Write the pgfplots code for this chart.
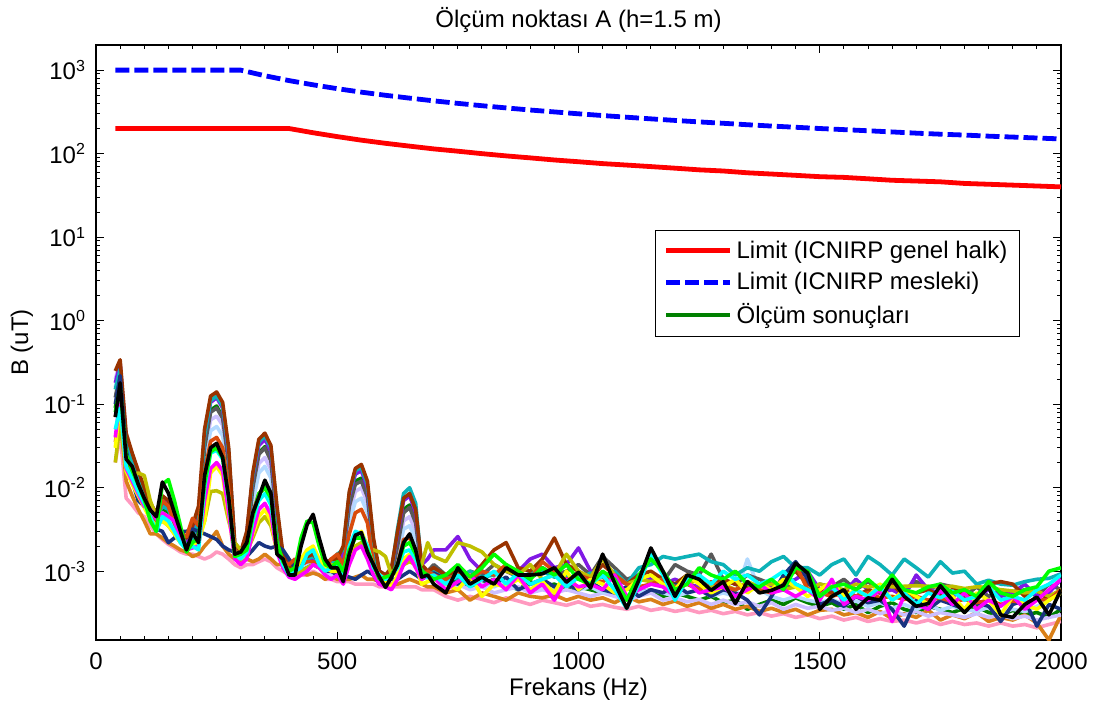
\documentclass[border=0pt]{standalone}
\usepackage{fontspec}
\setmainfont{Liberation Sans}
\usepackage{pgfplots}
\usepackage{pgfplotstable}
\pgfplotsset{compat=1.18}
\definecolor{cBR}{rgb}{0.6,0.2,0}
\definecolor{cTE}{rgb}{0.05,0.7,0.72}
\definecolor{cPU}{rgb}{0.5,0.1,0.9}
\definecolor{cDG}{rgb}{0,0.5,0}
\definecolor{cGY}{rgb}{0.35,0.35,0.35}
\definecolor{cLV}{rgb}{0.8,0.75,1}
\definecolor{cLB}{rgb}{0.7,0.85,1}
\definecolor{cRO}{rgb}{0.85,0.3,0.05}
\definecolor{cCY}{rgb}{0,1,1}
\definecolor{cLI}{rgb}{0,1,0}
\definecolor{cMG}{rgb}{1,0,1}
\definecolor{cYE}{rgb}{1,1,0}
\definecolor{cOL}{rgb}{0.75,0.75,0}
\definecolor{cNV}{rgb}{0.1,0.2,0.5}
\definecolor{cOR}{rgb}{0.85,0.5,0.1}
\definecolor{cPK}{rgb}{1,0.6,0.75}
\newcommand{\fz}{\fontsize{12}{14}\selectfont}

\pgfplotstableread{
f b
40 200
400 200
450 178
500 160
550 145
600 133
650 123
700 114
750 107
800 100
850 94
900 89
950 84
1000 80
1050 76
1100 73
1150 70
1200 67
1250 64
1300 62
1350 59
1400 57
1450 55
1500 53
1550 52
1600 50
1650 48
1700 47
1750 46
1800 44
1850 43
1900 42
1950 41
2000 40
}\redlim

\pgfplotstableread{
f b
40 1000
300 1000
350 857
400 750
450 667
500 600
550 545
600 500
650 462
700 429
750 400
800 375
850 353
900 333
950 316
1000 300
1050 286
1100 273
1150 261
1200 250
1250 240
1300 231
1350 222
1400 214
1450 207
1500 200
1550 194
1600 188
1650 182
1700 176
1750 171
1800 167
1850 162
1900 158
1950 154
2000 150
}\bluelim

\pgfplotstableread{
f br te pu dg gy lv lb ro cy li mg ye ol nv or pk bk
40 2500e-4 1500e-4 1800e-4 900e-4 1200e-4 2000e-4 1600e-4 700e-4 500e-4 800e-4 400e-4 300e-4 200e-4 1000e-4 350e-4 200e-4 700e-4
50 3400e-4 2600e-4 3000e-4 2000e-4 2400e-4 3200e-4 2800e-4 1500e-4 900e-4 1600e-4 1200e-4 1000e-4 600e-4 2200e-4 800e-4 450e-4 1800e-4
62.5 450e-4 330e-4 350e-4 260e-4 300e-4 400e-4 380e-4 240e-4 180e-4 250e-4 170e-4 160e-4 150e-4 280e-4 120e-4 75e-4 220e-4
75 260e-4 200e-4 220e-4 170e-4 190e-4 230e-4 210e-4 150e-4 130e-4 160e-4 120e-4 110e-4 140e-4 120e-4 80e-4 62e-4 180e-4
87.5 160e-4 130e-4 140e-4 110e-4 120e-4 150e-4 140e-4 100e-4 90e-4 110e-4 85e-4 80e-4 150e-4 70e-4 55e-4 50e-4 110e-4
100 100e-4 85e-4 90e-4 75e-4 80e-4 95e-4 88e-4 70e-4 65e-4 72e-4 60e-4 58e-4 140e-4 60e-4 40e-4 45e-4 75e-4
112.5 65e-4 55e-4 58e-4 50e-4 55e-4 60e-4 56e-4 48e-4 45e-4 40e-4 55e-4 42e-4 70e-4 45e-4 28e-4 35e-4 54e-4
125 50e-4 42e-4 45e-4 38e-4 42e-4 46e-4 43e-4 40e-4 30e-4 30e-4 42e-4 35e-4 45e-4 32e-4 28e-4 28e-4 45e-4
137.5 80e-4 60e-4 70e-4 55e-4 65e-4 50e-4 45e-4 70e-4 45e-4 110e-4 50e-4 40e-4 40e-4 30e-4 25e-4 24e-4 117e-4
150 70e-4 55e-4 65e-4 50e-4 60e-4 45e-4 42e-4 60e-4 40e-4 125e-4 45e-4 35e-4 35e-4 22e-4 22e-4 21e-4 86e-4
162.5 45e-4 38e-4 42e-4 35e-4 38e-4 35e-4 32e-4 38e-4 30e-4 70e-4 40e-4 28e-4 28e-4 25e-4 20e-4 19e-4 50e-4
175 30e-4 26e-4 28e-4 24e-4 26e-4 25e-4 24e-4 28e-4 22e-4 35e-4 25e-4 22e-4 22e-4 30e-4 18e-4 17e-4 30e-4
187.5 25e-4 20e-4 22e-4 18e-4 20e-4 20e-4 19e-4 26e-4 18e-4 17e-4 18e-4 19e-4 19e-4 30e-4 17e-4 16e-4 18e-4
200 35e-4 25e-4 28e-4 22e-4 24e-4 22e-4 21e-4 43e-4 20e-4 22e-4 19e-4 20e-4 22e-4 32e-4 15e-4 16e-4 29e-4
212.5 60e-4 40e-4 50e-4 30e-4 35e-4 30e-4 28e-4 35e-4 18e-4 25e-4 20e-4 22e-4 24e-4 30e-4 16e-4 15e-4 22e-4
225 500e-4 420e-4 430e-4 330e-4 300e-4 250e-4 200e-4 150e-4 100e-4 110e-4 70e-4 40e-4 40e-4 28e-4 20e-4 14e-4 140e-4
237.5 1250e-4 1100e-4 1050e-4 850e-4 800e-4 650e-4 480e-4 360e-4 260e-4 270e-4 170e-4 150e-4 90e-4 26e-4 24e-4 15e-4 300e-4
250 1400e-4 1250e-4 1200e-4 950e-4 900e-4 720e-4 540e-4 400e-4 280e-4 300e-4 200e-4 180e-4 92e-4 24e-4 30e-4 17e-4 340e-4
262.5 1050e-4 950e-4 900e-4 700e-4 680e-4 560e-4 420e-4 300e-4 220e-4 230e-4 160e-4 140e-4 85e-4 20e-4 20e-4 16e-4 230e-4
275 300e-4 270e-4 250e-4 200e-4 190e-4 160e-4 130e-4 95e-4 70e-4 75e-4 50e-4 45e-4 40e-4 18e-4 16e-4 14e-4 77e-4
287.5 22e-4 20e-4 20e-4 18e-4 18e-4 17e-4 17e-4 18e-4 16e-4 15e-4 14e-4 16e-4 22e-4 17e-4 14e-4 12e-4 16e-4
300 17e-4 16e-4 17e-4 15e-4 14e-4 14e-4 15e-4 15e-4 14e-4 16e-4 12e-4 14e-4 18e-4 16e-4 13e-4 11e-4 17e-4
312.5 30e-4 25e-4 28e-4 22e-4 20e-4 20e-4 19e-4 20e-4 17e-4 18e-4 14e-4 16e-4 17e-4 15e-4 14e-4 12e-4 22e-4
325 150e-4 140e-4 135e-4 110e-4 100e-4 80e-4 65e-4 50e-4 40e-4 45e-4 30e-4 28e-4 25e-4 18e-4 13e-4 12e-4 50e-4
337.5 380e-4 350e-4 320e-4 260e-4 250e-4 195e-4 150e-4 85e-4 70e-4 85e-4 55e-4 45e-4 38e-4 22e-4 14e-4 13e-4 77e-4
350 450e-4 420e-4 380e-4 310e-4 300e-4 230e-4 180e-4 100e-4 85e-4 100e-4 65e-4 55e-4 45e-4 20e-4 16e-4 14e-4 123e-4
362.5 320e-4 300e-4 270e-4 220e-4 210e-4 165e-4 130e-4 75e-4 62e-4 75e-4 48e-4 40e-4 35e-4 19e-4 14e-4 13e-4 86e-4
375 60e-4 55e-4 50e-4 40e-4 38e-4 32e-4 28e-4 22e-4 20e-4 22e-4 17e-4 17e-4 18e-4 20e-4 12e-4 11e-4 16e-4
387.5 16e-4 14e-4 15e-4 13e-4 12e-4 12e-4 12e-4 13e-4 12e-4 13e-4 11e-4 12e-4 13e-4 18e-4 12e-4 10e-4 14e-4
400 11e-4 12e-4 12e-4 10e-4 10e-4 10e-4 11e-4 12e-4 9e-4 10e-4 8.5e-4 9e-4 10e-4 14e-4 10e-4 9e-4 9e-4
412.5 13e-4 12e-4 11e-4 9e-4 9.5e-4 9e-4 10e-4 14e-4 10e-4 11e-4 8e-4 10e-4 9e-4 11e-4 10e-4 8.5e-4 9e-4
425 14e-4 13e-4 12e-4 11e-4 12e-4 10e-4 10e-4 12e-4 11e-4 25e-4 9e-4 14e-4 10e-4 10e-4 10e-4 9e-4 20e-4
437.5 15e-4 14e-4 13e-4 14e-4 16e-4 12e-4 12e-4 13e-4 16e-4 40e-4 10e-4 18e-4 11e-4 11e-4 9e-4 9e-4 36e-4
450 16e-4 15e-4 14e-4 15e-4 17e-4 13e-4 13e-4 13e-4 18e-4 38e-4 12e-4 20e-4 12e-4 12e-4 9.5e-4 10e-4 48e-4
462.5 13e-4 13e-4 12e-4 13e-4 14e-4 12e-4 12e-4 12e-4 12e-4 20e-4 11e-4 14e-4 11e-4 11e-4 9e-4 9e-4 25e-4
475 12e-4 11e-4 12e-4 10e-4 11e-4 10e-4 10e-4 11e-4 10e-4 12e-4 9e-4 11e-4 10e-4 10e-4 8e-4 8e-4 14e-4
487.5 14e-4 12e-4 11e-4 10e-4 12e-4 9e-4 9.5e-4 14e-4 11e-4 11e-4 8e-4 10e-4 12e-4 10e-4 9e-4 8e-4 11e-4
500 14e-4 16e-4 12e-4 11e-4 13e-4 10e-4 10e-4 16e-4 12e-4 13e-4 9e-4 10e-4 11e-4 9e-4 8e-4 7.5e-4 11e-4
512.5 20e-4 18e-4 17e-4 14e-4 15e-4 12e-4 11e-4 12e-4 9e-4 10e-4 7e-4 9e-4 10e-4 9e-4 8e-4 7.5e-4 7.5e-4
525 90e-4 85e-4 80e-4 65e-4 60e-4 48e-4 38e-4 28e-4 20e-4 18e-4 12e-4 15e-4 14e-4 8.5e-4 8e-4 7.5e-4 16e-4
537.5 170e-4 160e-4 145e-4 120e-4 110e-4 90e-4 68e-4 50e-4 30e-4 25e-4 18e-4 27e-4 20e-4 8e-4 8.5e-4 7e-4 27e-4
550 190e-4 175e-4 160e-4 130e-4 120e-4 100e-4 75e-4 55e-4 28e-4 25e-4 20e-4 30e-4 22e-4 9e-4 9e-4 7e-4 29e-4
562.5 120e-4 110e-4 100e-4 85e-4 78e-4 65e-4 50e-4 38e-4 20e-4 18e-4 14e-4 20e-4 18e-4 10e-4 8e-4 7e-4 17e-4
575 25e-4 22e-4 20e-4 18e-4 17e-4 15e-4 13e-4 12e-4 11e-4 12e-4 9e-4 11e-4 18e-4 9e-4 8e-4 7e-4 12e-4
587.5 10e-4 9e-4 10e-4 9e-4 9e-4 8.5e-4 8.5e-4 9e-4 9e-4 8e-4 7e-4 9e-4 17e-4 7e-4 7.5e-4 6.5e-4 8.5e-4
600 9e-4 8.5e-4 9e-4 8e-4 8.5e-4 8e-4 8e-4 8.5e-4 8e-4 8.5e-4 6.5e-4 7.5e-4 15e-4 7.5e-4 7e-4 6.5e-4 6.4e-4
612.5 11e-4 10e-4 10e-4 9e-4 9e-4 8.5e-4 8.5e-4 9e-4 9e-4 9e-4 6e-4 6.5e-4 9e-4 8e-4 7e-4 6.5e-4 8.5e-4
625 30e-4 32e-4 28e-4 22e-4 20e-4 17e-4 14e-4 12e-4 11e-4 12e-4 8e-4 9e-4 10e-4 8e-4 7e-4 6.5e-4 12e-4
637.5 75e-4 85e-4 70e-4 55e-4 50e-4 40e-4 32e-4 24e-4 17e-4 20e-4 12e-4 14e-4 12e-4 9e-4 7.5e-4 6.5e-4 22e-4
650 85e-4 100e-4 80e-4 62e-4 58e-4 45e-4 35e-4 25e-4 18e-4 22e-4 15e-4 16e-4 13e-4 10e-4 8e-4 6.5e-4 28e-4
662.5 55e-4 65e-4 50e-4 40e-4 38e-4 30e-4 24e-4 18e-4 14e-4 16e-4 11e-4 12e-4 12e-4 9e-4 7.5e-4 6.5e-4 18e-4
675 12e-4 11e-4 12e-4 10e-4 10e-4 9e-4 9e-4 9e-4 9e-4 10e-4 8e-4 7e-4 12e-4 8e-4 7e-4 6e-4 8.5e-4
687.5 10e-4 9e-4 14e-4 9e-4 10e-4 8.5e-4 8e-4 10e-4 8.5e-4 9e-4 9e-4 7.5e-4 22e-4 9e-4 6.5e-4 6e-4 9e-4
700 11e-4 10e-4 18e-4 9e-4 12e-4 8e-4 8.5e-4 9e-4 9e-4 8e-4 8.5e-4 8e-4 15e-4 9.5e-4 6.5e-4 6e-4 7e-4
725 9e-4 9e-4 18e-4 7e-4 9e-4 6.5e-4 7e-4 8e-4 7e-4 9e-4 6e-4 7e-4 13e-4 8e-4 5.5e-4 5e-4 5.5e-4
750 10e-4 8e-4 26e-4 8e-4 8e-4 7e-4 6.5e-4 9e-4 9e-4 12e-4 7.5e-4 6e-4 22e-4 7e-4 6e-4 4.5e-4 11e-4
775 8e-4 10e-4 14e-4 6.5e-4 10e-4 6e-4 8e-4 8e-4 6.5e-4 8.5e-4 9e-4 9e-4 20e-4 9e-4 4.5e-4 5e-4 7e-4
800 12e-4 8.5e-4 10e-4 7e-4 9e-4 6.5e-4 7e-4 10e-4 8e-4 11e-4 6.5e-4 5e-4 17e-4 8e-4 5.5e-4 4.6e-4 8.5e-4
825 18e-4 9e-4 9e-4 8e-4 12e-4 5.5e-4 6.5e-4 9e-4 10e-4 16e-4 8e-4 7e-4 12e-4 7e-4 5e-4 4.2e-4 7e-4
850 22e-4 11e-4 11e-4 7e-4 10e-4 6e-4 7.5e-4 12e-4 7e-4 12e-4 6e-4 6.5e-4 10e-4 8.5e-4 4.5e-4 4.8e-4 11e-4
875 11e-4 8e-4 10e-4 6e-4 8.5e-4 6.5e-4 6e-4 9e-4 9.5e-4 10e-4 9e-4 8e-4 9e-4 6e-4 5.5e-4 4.4e-4 9e-4
900 10e-4 9.5e-4 14e-4 7.5e-4 9e-4 5.5e-4 7e-4 8e-4 7e-4 8e-4 5.5e-4 6e-4 12e-4 7e-4 5e-4 4e-4 9e-4
925 14e-4 10e-4 16e-4 6.5e-4 11e-4 6e-4 6.5e-4 13e-4 8e-4 11e-4 7e-4 7.5e-4 8e-4 8e-4 4.8e-4 4.5e-4 9.3e-4
950 25e-4 8.5e-4 11e-4 7e-4 9e-4 5.5e-4 6e-4 10e-4 9e-4 9e-4 4.5e-4 5.5e-4 9e-4 6.5e-4 5.2e-4 4.2e-4 11e-4
975 12e-4 9e-4 12e-4 6e-4 10e-4 6e-4 7e-4 8e-4 6.5e-4 12e-4 8e-4 10e-4 16e-4 7e-4 4.5e-4 3.9e-4 7.4e-4
1000 10e-4 8e-4 19e-4 6.5e-4 12e-4 5.5e-4 6e-4 9e-4 8.5e-4 8e-4 6.5e-4 6e-4 10e-4 6e-4 5e-4 4.3e-4 9.7e-4
1025 8e-4 9.5e-4 10e-4 6e-4 9e-4 5e-4 6.5e-4 8e-4 7e-4 7e-4 7e-4 8e-4 8.5e-4 7.5e-4 4.5e-4 3.8e-4 6.3e-4
1050 12e-4 8.5e-4 9e-4 5.5e-4 15e-4 5.5e-4 5.5e-4 7.5e-4 9e-4 10e-4 6e-4 7e-4 14e-4 6e-4 4.8e-4 4e-4 16e-4
1075 9e-4 10e-4 8e-4 6e-4 11e-4 5e-4 6e-4 9e-4 6e-4 8e-4 9e-4 5.5e-4 9e-4 5.5e-4 4.2e-4 3.7e-4 7.2e-4
1100 7e-4 7e-4 7e-4 5e-4 8e-4 4.5e-4 5e-4 7e-4 3.6e-4 4.5e-4 5e-4 6e-4 7e-4 6.5e-4 5e-4 3.5e-4 3.6e-4
1125 9e-4 11e-4 9e-4 5.5e-4 9e-4 5e-4 5.5e-4 6.5e-4 7e-4 9e-4 6e-4 8e-4 8e-4 5e-4 4.3e-4 3.8e-4 7.8e-4
1150 10e-4 12e-4 8e-4 6e-4 8e-4 5.5e-4 6e-4 7e-4 16e-4 14e-4 7e-4 9e-4 7.5e-4 6e-4 4.6e-4 3.4e-4 19e-4
1175 8e-4 15e-4 7e-4 5e-4 7.5e-4 4.5e-4 5.5e-4 8e-4 9e-4 10e-4 6.5e-4 7e-4 8e-4 5.5e-4 4e-4 3.6e-4 10e-4
1200 7e-4 14e-4 8e-4 5.5e-4 12e-4 4.8e-4 5e-4 6.5e-4 4.5e-4 6e-4 5e-4 6e-4 6.5e-4 7e-4 4.4e-4 3.3e-4 5e-4
1225 9e-4 15e-4 7e-4 5e-4 10e-4 4.3e-4 5.5e-4 7e-4 8e-4 7e-4 7.5e-4 9e-4 7e-4 5.5e-4 3.8e-4 3.5e-4 9e-4
1250 8e-4 16e-4 6.5e-4 4.5e-4 9e-4 4.6e-4 6e-4 6e-4 9e-4 11e-4 5.5e-4 7e-4 8e-4 6e-4 4.2e-4 3.2e-4 8e-4
1275 7e-4 13e-4 7e-4 5e-4 16e-4 4e-4 5e-4 7.5e-4 7e-4 9e-4 6e-4 5.5e-4 6.5e-4 5e-4 3.6e-4 3.4e-4 5.9e-4
1300 8e-4 12e-4 8e-4 4.2e-4 8e-4 4.5e-4 5.5e-4 6.5e-4 10e-4 8e-4 6.5e-4 6.5e-4 7e-4 6e-4 4e-4 3.1e-4 7.5e-4
1325 7e-4 9e-4 7e-4 4.5e-4 7e-4 4e-4 5e-4 6e-4 8e-4 10e-4 5e-4 8e-4 6e-4 5.5e-4 3.5e-4 3.3e-4 4.1e-4
1350 6.5e-4 11e-4 6e-4 3.5e-4 9e-4 4.3e-4 14e-4 7e-4 9e-4 7e-4 6e-4 5.5e-4 7.5e-4 4.5e-4 3.8e-4 3e-4 7.5e-4
1375 7e-4 10e-4 7e-4 4e-4 8e-4 3.8e-4 6e-4 6e-4 7e-4 6.5e-4 7e-4 7e-4 6.5e-4 3e-4 3.3e-4 3.2e-4 5.5e-4
1400 6e-4 13e-4 6.5e-4 4.5e-4 7e-4 4.2e-4 5e-4 5.5e-4 8e-4 8e-4 5.5e-4 6e-4 7e-4 5e-4 3.6e-4 2.9e-4 5.9e-4
1425 8e-4 15e-4 7e-4 4e-4 6.5e-4 3.5e-4 4.5e-4 6.5e-4 10e-4 6e-4 6e-4 8e-4 6e-4 9e-4 3.2e-4 3.1e-4 6.8e-4
1450 10e-4 11e-4 8e-4 4.8e-4 7e-4 4e-4 5e-4 12e-4 7e-4 11e-4 5e-4 6.5e-4 6.5e-4 13e-4 3.5e-4 2.8e-4 12.5e-4
1475 7e-4 11e-4 10e-4 4.2e-4 6e-4 3.6e-4 4.5e-4 6e-4 6e-4 10e-4 6e-4 5e-4 6e-4 8e-4 3e-4 3e-4 9.5e-4
1500 6e-4 9e-4 6e-4 3.8e-4 7e-4 3.8e-4 4.2e-4 5.5e-4 5e-4 5e-4 4.5e-4 6e-4 7e-4 4e-4 3.4e-4 2.7e-4 3.5e-4
1525 5.5e-4 12e-4 6e-4 4.2e-4 6.5e-4 3.4e-4 4.6e-4 5e-4 6.5e-4 6.5e-4 8e-4 7.5e-4 6.5e-4 4.5e-4 3.5e-4 2.9e-4 5e-4
1550 6e-4 14e-4 5.5e-4 3.5e-4 8e-4 3.6e-4 4e-4 5.5e-4 4.5e-4 7e-4 4e-4 5e-4 6e-4 3.8e-4 3e-4 2.6e-4 6e-4
1575 5e-4 9e-4 8e-4 4e-4 6e-4 3.2e-4 4.4e-4 5e-4 6e-4 6e-4 5e-4 6e-4 7e-4 5e-4 3.2e-4 2.8e-4 3.5e-4
1600 6e-4 15e-4 6e-4 3.2e-4 7.5e-4 3.5e-4 3.8e-4 5.5e-4 5e-4 8e-4 4.5e-4 5e-4 6.5e-4 4.2e-4 2.8e-4 2.5e-4 4.8e-4
1625 5.5e-4 12e-4 5.5e-4 3.8e-4 6e-4 3.1e-4 4.2e-4 4.8e-4 6.5e-4 6e-4 6e-4 7e-4 6.8e-4 4.5e-4 3.3e-4 2.7e-4 4.5e-4
1650 7e-4 9e-4 6e-4 4.2e-4 6.5e-4 3.4e-4 3.6e-4 5e-4 4.5e-4 9e-4 2.5e-4 4.5e-4 6.5e-4 3.5e-4 2.7e-4 2.5e-4 8e-4
1675 5e-4 14e-4 5e-4 3.5e-4 6e-4 3e-4 4e-4 4.6e-4 5.5e-4 6e-4 5e-4 6e-4 6.6e-4 2.2e-4 3.1e-4 2.6e-4 5e-4
1700 5.5e-4 11e-4 9e-4 3.2e-4 7.5e-4 3.3e-4 3.5e-4 5e-4 4e-4 5.5e-4 4e-4 5e-4 6.7e-4 4.5e-4 2.8e-4 2.4e-4 3.8e-4
1725 6e-4 8.5e-4 6e-4 3.8e-4 6e-4 2.9e-4 4e-4 4.5e-4 5.5e-4 6.5e-4 3.5e-4 4e-4 6.6e-4 3.5e-4 3.4e-4 2.6e-4 4.1e-4
1750 5e-4 13e-4 5.5e-4 3.5e-4 7e-4 3.2e-4 3.4e-4 4.8e-4 4.8e-4 7e-4 6e-4 6.5e-4 6.5e-4 4.5e-4 2.6e-4 2.3e-4 6.7e-4
1775 6e-4 9.5e-4 5e-4 3.2e-4 6.5e-4 3e-4 3.8e-4 4.3e-4 5.8e-4 5.5e-4 4e-4 5e-4 6.6e-4 4e-4 3e-4 2.5e-4 4.5e-4
1800 5.5e-4 10e-4 6e-4 3.6e-4 5e-4 2.8e-4 3.5e-4 4.6e-4 4.5e-4 6e-4 5.5e-4 3.5e-4 6.2e-4 3.5e-4 2.7e-4 2.3e-4 3.2e-4
1825 5e-4 7e-4 5e-4 3.8e-4 6.5e-4 3.1e-4 3.3e-4 4.2e-4 5e-4 5e-4 3.5e-4 5.5e-4 6.5e-4 4.2e-4 3.2e-4 2.4e-4 4.5e-4
1850 7e-4 7.8e-4 6e-4 3.2e-4 5e-4 2.8e-4 3.7e-4 4.5e-4 6.5e-4 7.5e-4 4.5e-4 4.5e-4 6.4e-4 3.8e-4 2.5e-4 2.2e-4 6.5e-4
1875 7.5e-4 7e-4 5e-4 3e-4 6e-4 3e-4 3.2e-4 4e-4 4.5e-4 5.5e-4 3.8e-4 3e-4 6e-4 2.5e-4 2.8e-4 2.4e-4 3e-4
1900 7e-4 6.8e-4 5.5e-4 3.4e-4 5.5e-4 2.7e-4 3.5e-4 4.4e-4 5e-4 5e-4 5e-4 5e-4 5.8e-4 4e-4 2.6e-4 2.2e-4 2.8e-4
1925 5e-4 7.5e-4 7e-4 3e-4 6e-4 2.9e-4 3.3e-4 4.2e-4 4.5e-4 6e-4 3.5e-4 4e-4 5.5e-4 4.5e-4 3e-4 2.3e-4 4e-4
1950 6e-4 8e-4 5e-4 3.2e-4 5e-4 2.6e-4 3.8e-4 4.6e-4 6e-4 6.5e-4 4.5e-4 3.5e-4 5.8e-4 2.2e-4 2.4e-4 2.1e-4 4.9e-4
1975 4.5e-4 8.2e-4 5.5e-4 2.8e-4 7e-4 2.8e-4 4.5e-4 4.5e-4 7e-4 10e-4 6e-4 4.5e-4 5e-4 4e-4 1.5e-4 2.3e-4 3e-4
2000 6e-4 9.3e-4 8e-4 3.5e-4 6e-4 3e-4 5.5e-4 6e-4 9e-4 11e-4 8e-4 5.5e-4 6e-4 3.5e-4 3e-4 2.5e-4 6e-4
}\meas

\begin{document}
\begin{tikzpicture}
\begin{axis}[
  name=ax, at={(0,0)}, anchor=south west,
  scale only axis, width=482.5pt, height=297.5pt,
  xmin=0, xmax=2000, ymode=log, ymin=1.5e-4, ymax=2000,
  xtick={0,500,1000,1500,2000}, xticklabels={0,500,1000,1500,2000},
  minor x tick num=9,
  ytick={1e-3,1e-2,1e-1,1,10,100,1000},
  yticklabels={10\textsuperscript{-3},10\textsuperscript{-2},10\textsuperscript{-1},10\textsuperscript{0},10\textsuperscript{1},10\textsuperscript{2},10\textsuperscript{3}},
  tick align=inside, xtick pos=both, ytick pos=both,
  xticklabel pos=lower, yticklabel pos=left,
  major tick length=4pt, minor tick length=2pt,
  every tick/.style={black, line width=0.5pt},
  axis line style={line width=0.6pt},
  tick label style={font=\fz},
  xticklabel style={yshift=-3pt},
  yticklabel style={xshift=-1.5pt},
  title={Ölçüm noktası A (h=1.5 m)},
  title style={font=\fz, at={(axis description cs:0.5,1)}, anchor=south, yshift=-3.5pt},
  xlabel={Frekans (Hz)},
  xlabel style={font=\fz, at={(axis description cs:0.5,0)}, anchor=north, yshift=-15.5pt},
  ylabel={B (uT)},
  ylabel style={font=\fz, at={(axis description cs:-0.0767,0.5)}, anchor=center},
  legend style={at={(0.9575,0.689)}, anchor=north east, draw=black, line width=0.6pt,
    fill=white, font=\fz, inner xsep=4pt, inner ysep=3pt, row sep=1.5pt,
    cells={anchor=west}},
  legend image code/.code={\draw[#1] (0pt,0pt) -- (32pt,0pt);},
  meas/.style={line width=1.8pt, line join=round, forget plot},
]
\addplot[color=red, line width=2.4pt] table[x=f,y=b]{\redlim};
\addlegendentry{Limit (ICNIRP genel halk)}
\addplot[color=blue, line width=2.4pt, dash pattern=on 7pt off 2.5pt] table[x=f,y=b]{\bluelim};
\addlegendentry{Limit (ICNIRP mesleki)}
\addplot[color=cDG, line width=1.8pt, line join=round] table[x=f,y=dg]{\meas};
\addlegendentry{Ölçüm sonuçları}
\addplot[meas, color=cPK] table[x=f,y=pk]{\meas};
\addplot[meas, color=cOR] table[x=f,y=or]{\meas};
\addplot[meas, color=cLV] table[x=f,y=lv]{\meas};
\addplot[meas, color=cLB] table[x=f,y=lb]{\meas};
\addplot[meas, color=cGY] table[x=f,y=gy]{\meas};
\addplot[meas, color=cPU] table[x=f,y=pu]{\meas};
\addplot[meas, color=cTE] table[x=f,y=te]{\meas};
\addplot[meas, color=cBR] table[x=f,y=br]{\meas};
\addplot[meas, color=cNV] table[x=f,y=nv]{\meas};
\addplot[meas, color=cOL] table[x=f,y=ol]{\meas};
\addplot[meas, color=cRO] table[x=f,y=ro]{\meas};
\addplot[meas, color=cYE] table[x=f,y=ye]{\meas};
\addplot[meas, color=cMG] table[x=f,y=mg]{\meas};
\addplot[meas, color=cCY] table[x=f,y=cy]{\meas};
\addplot[meas, color=cLI] table[x=f,y=li]{\meas};
\addplot[meas, color=black] table[x=f,y=bk]{\meas};
\end{axis}
\pgfresetboundingbox
\path ([shift={(-48pt,-34.5pt)}]ax.south west) rectangle ([shift={(19pt,22.5pt)}]ax.north east);
\end{tikzpicture}
\end{document}
